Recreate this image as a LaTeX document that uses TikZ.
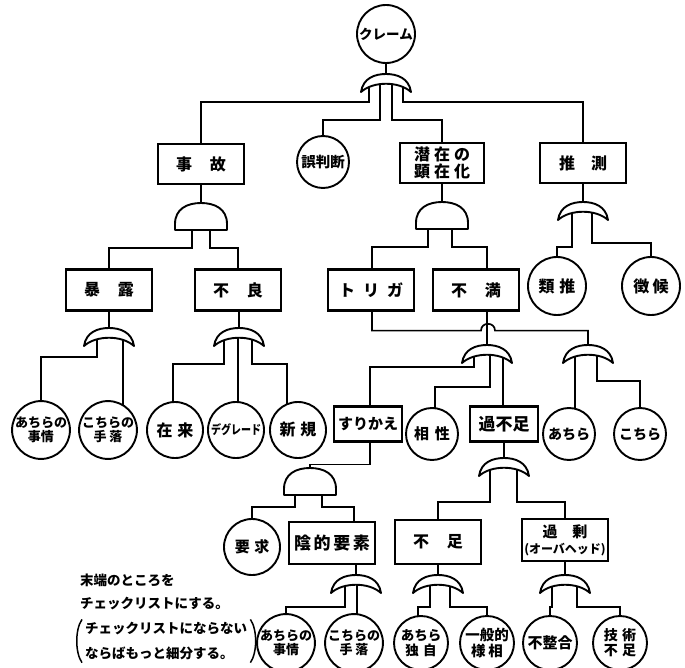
\documentclass[tikz,border=0pt]{standalone}
\usepackage{fontspec}
\setmainfont{Noto Sans CJK JP}
\usetikzlibrary{backgrounds}
\tikzset{
  gate/.style={draw, line width=1.9pt, fill=white, line join=round},
  orgate/.pic={\path[gate] (-25,18) .. controls (-23,4) and (-11,0) .. (0,0) .. controls (11,0) and (23,4) .. (25,18) .. controls (13,7) and (-13,7) .. (-25,18) -- cycle;},
  andgate/.pic={\path[gate] (-26,27) -- (-26,21) .. controls (-26,6) and (-14,0) .. (0,0) .. controls (14,0) and (26,6) .. (26,21) -- (26,27) -- cycle;},
  every on background layer/.style={line width=1.7pt},
}
\newcommand{\fs}[1]{\fontsize{#1}{#1}\selectfont\bfseries}
\begin{document}
\begin{tikzpicture}[x=1pt,y=-1pt,
  bx/.style={draw, line width=2.2pt, fill=white, minimum width=86pt, minimum height=40pt, inner sep=0pt, align=center, font=\fs{16}},
  ci/.style={draw, circle, line width=1.9pt, fill=white, minimum size=56pt, inner sep=0pt, align=center, font=\fs{13}},
  note/.style={anchor=west, inner sep=0pt, font=\fs{13.5}}]
\useasboundingbox (0,0) rectangle (685,668);
% ---- nodes ----
\node[ci, minimum size=58pt, font=\fs{13.5}] (c0) at (386,34) {クレーム};
\node[bx] (jiko) at (201,164) {事\hspace{1.1em}故};
\node[ci, minimum size=52pt, font=\fs{14.5}] (gohan) at (323,162) {誤判断};
\node[bx, minimum width=84pt, font=\fontsize{16}{16.5}\selectfont\bfseries] (senzai) at (442,163) {潜\hspace{0.25em}在\hspace{0.25em}の\\顕\hspace{0.25em}在\hspace{0.25em}化};
\node[bx] (suisoku) at (583,163) {推\hspace{1em}測};
\node[bx, minimum height=41pt] (bakuro) at (109,290) {暴\hspace{1.1em}露};
\node[bx, minimum height=41pt] (furyo) at (238,290) {不\hspace{1.1em}良};
\node[bx, minimum height=41pt] (toriga) at (371,290) {ト\hspace{0.5em}リ\hspace{0.5em}ガ};
\node[bx, minimum height=41pt] (fuman) at (476,290) {不\hspace{1.1em}満};
\node[ci, minimum size=58pt, font=\fs{16}] (ruisui) at (557,286) {類\hspace{0.3em}推};
\node[ci, minimum size=58pt, font=\fs{16}] (choko) at (651,286) {徴\hspace{0.2em}候};
% row 430
\node[ci] (a1) at (41,430) {あちらの\\[1pt]事情};
\node[ci] (a2) at (108,430) {こちらの\\[1pt]手\hspace{0.2em}落};
\node[ci, font=\fs{16}] (zairai) at (175,430) {在\hspace{0.3em}来};
\node[ci, font=\fs{12.5}] (deg) at (236,430) {\scalebox{0.8}[1]{デグレード}};
\node[ci, font=\fs{16}] (shinki) at (298,430) {新\hspace{0.3em}規};
\node[bx, minimum width=68pt, minimum height=35pt, font=\fs{15}] (suri) at (368,424) {すりかえ};
\node[ci, minimum size=52pt, font=\fs{15}] (aisho) at (432,434) {相\hspace{0.4em}性};
\node[bx, minimum width=68pt, minimum height=35pt, font=\fs{17}] (kafu) at (504,424) {過不足};
\node[ci, minimum size=52pt, font=\fs{14}] (achira) at (569,434) {あちら};
\node[ci, minimum size=52pt, font=\fs{14}] (kochira) at (640,434) {こちら};
% row 545
\node[ci, font=\fs{15}] (yokyu) at (252,547) {要\hspace{0.3em}求};
\node[bx, minimum height=42pt, font=\fs{17}] (inteki) at (332,543) {陰\hspace{0.15em}的\hspace{0.15em}要\hspace{0.15em}素};
\node[bx, minimum height=44pt, font=\fs{16}] (fusoku) at (438,542) {不\hspace{1.1em}足};
\node[bx, minimum height=42pt, font=\fontsize{15}{16}\selectfont\bfseries] (kajo) at (565,540) {過\hspace{1em}剰\\{\fontsize{12}{13}\selectfont (オーバヘッド)}};
% bottom row
\node[ci, minimum size=54pt] (b1) at (286,643) {あちらの\\[1pt]事情};
\node[ci, minimum size=54pt] (b2) at (354,643) {こちらの\\[1pt]手\hspace{0.2em}落};
\node[ci, minimum size=54pt, font=\fs{13.5}] (c1) at (421,643) {あちら\\[1pt]独\hspace{0.3em}自};
\node[ci, minimum size=54pt, font=\fs{14.5}] (c2) at (487,643) {一般的\\[1pt]様\hspace{0.2em}相};
\node[ci, minimum size=54pt, font=\fs{15}] (d1) at (550,643) {不整合};
\node[ci, minimum size=54pt, font=\fs{14}] (d2) at (620,643) {技\hspace{0.3em}術\\[1pt]不\hspace{0.3em}足};
% notes
\node[note] (t1) at (80,580) {末端のところを};
\node[note] (t2) at (80,604) {チェックリストにする。};
\node[note] (t3) at (85,629) {チェックリストにならない};
\node[note] (t4) at (85,653) {ならばもっと細分する。};
\draw[line width=1.5pt] ([xshift=-3pt,yshift=3pt]t3.north west) .. controls +(-7,10) and +(-7,-10) .. ([xshift=-3pt,yshift=-3pt]t4.south west);
\draw[line width=1.5pt] ([xshift=3pt,yshift=3pt]t3.north east) .. controls +(7,10) and +(7,-10) .. ([xshift=3pt,yshift=-3pt]t3.north east |- t4.south);
% ---- gates ----
\coordinate (g1) at (386,74);
\coordinate (g2) at (201,203);
\coordinate (g3) at (109,328);
\coordinate (g4) at (239,328);
\coordinate (g5) at (442,202);
\coordinate (g6) at (487,345);
\coordinate (g7) at (588,345);
\coordinate (g8) at (504,458);
\coordinate (g9) at (310,468);
\coordinate (g10) at (356,575);
\coordinate (g11) at (438,575);
\coordinate (g12) at (565,575);
\coordinate (g13) at (583,202);
\foreach \g in {g1,g3,g4,g6,g7,g8,g10,g11,g12,g13} {\pic at (\g) {orgate};}
\foreach \g in {g2,g5,g9} {\pic at (\g) {andgate};}
% ---- connectors ----
\begin{scope}[on background layer]
\draw (c0.south) -- (g1);
\draw (g1) ++(-17,8) -- ++(0,20) -| (jiko.north);
\draw (g1) ++(-6,8) -- ++(0,38) -| (gohan.north);
\draw (g1) ++(6,8) -- ++(0,38) -| (senzai.north);
\draw (g1) ++(17,8) -- ++(0,20) -| (suisoku.north);
% jiko
\draw (jiko.south) -- (g2);
\draw (g2) ++(-9,20) -- ++(0,25) -| (bakuro.north);
\draw (g2) ++(9,20) -- ++(0,25) -| (furyo.north);
\draw (bakuro.south) -- (g3);
\draw (g3) ++(-12,8) -- ++(0,21) -| (a1.center);
\draw (g3) ++(14,8) coordinate (g3b) -- (g3b |- a2.center);
\draw (furyo.south) -- (g4 |- furyo.south) -- (g4);
\draw (g4) ++(-15,8) -- ++(0,28) -| ([xshift=-2pt]zairai.center);
\draw (g4) ++(-1,8) coordinate (g4b) -- (g4b |- deg.center);
\draw (g4) ++(13,8) -- ++(0,28) -| ([xshift=-11pt]shinki.center);
% senzai
\draw (senzai.south) -- (g5);
\draw (g5) ++(-14,20) -- ++(0,25) -| ([xshift=1pt]toriga.north);
\draw (g5) ++(10,20) -- ++(0,25) -| ([xshift=11pt]fuman.north);
\draw ([xshift=11pt]fuman.south) -- (g6);
\draw ([xshift=1pt]toriga.south) -- ++(0,19) -- ++(109,0) .. controls +(0,-9) and +(0,-9) .. ++(14,0) -| (g7);
\draw (g6) ++(-13,8) -- ++(0,14) -| ([xshift=2pt]suri.north);
\draw (g6) ++(3,8) -- ++(0,34) -| ([xshift=3pt]aisho.center);
\draw (g6) ++(16,8) coordinate (g6c) -- (g6c |- kafu.north);
\draw (g7) ++(-13,8) coordinate (g7a) -- (g7a |- achira.center);
\draw (g7) ++(9,8) -- ++(0,28) -| (kochira.center);
% surikae
\draw ([xshift=2pt]suri.south) -- ++(0,22) -| (g9);
\draw (g9) ++(-15,20) -- ++(0,19) -| (yokyu.center);
\draw (g9) ++(12,20) -- ++(0,19) -| ([xshift=22pt]inteki.north);
\draw (g10 |- inteki.south) -- (g10);
\draw (g10) ++(-11,8) -- ++(0,24) -| (b1.center);
\draw (g10) ++(1,8) coordinate (g10b) -- (g10b |- b2.center);
% kafusoku
\draw (kafu.south) -- (g8);
\draw (g8) ++(-14,9) -- ++(0,35) -| (fusoku.north);
\draw (g8) ++(13,9) -- ++(0,35) -| (kajo.north);
\draw (fusoku.south) -- (g11);
\draw (g11) ++(-8,8) -- ++(0,24) -| ([xshift=-3pt]c1.center);
\draw (g11) ++(12,8) -- ++(0,24) -| (c2.center);
\draw (kajo.south) -- (g12);
\draw (g12) ++(-13,8) -- ++(0,24) -| (d1.center);
\draw (g12) ++(12,8) -- ++(0,24) -| (d2.center);
% suisoku
\draw (suisoku.south) -- (g13);
\draw (g13) ++(-11,8) -- ++(0,37) -| (ruisui.center);
\draw (g13) ++(9,8) -- ++(0,33) -| (choko.center);
\end{scope}
\end{tikzpicture}
\end{document}
